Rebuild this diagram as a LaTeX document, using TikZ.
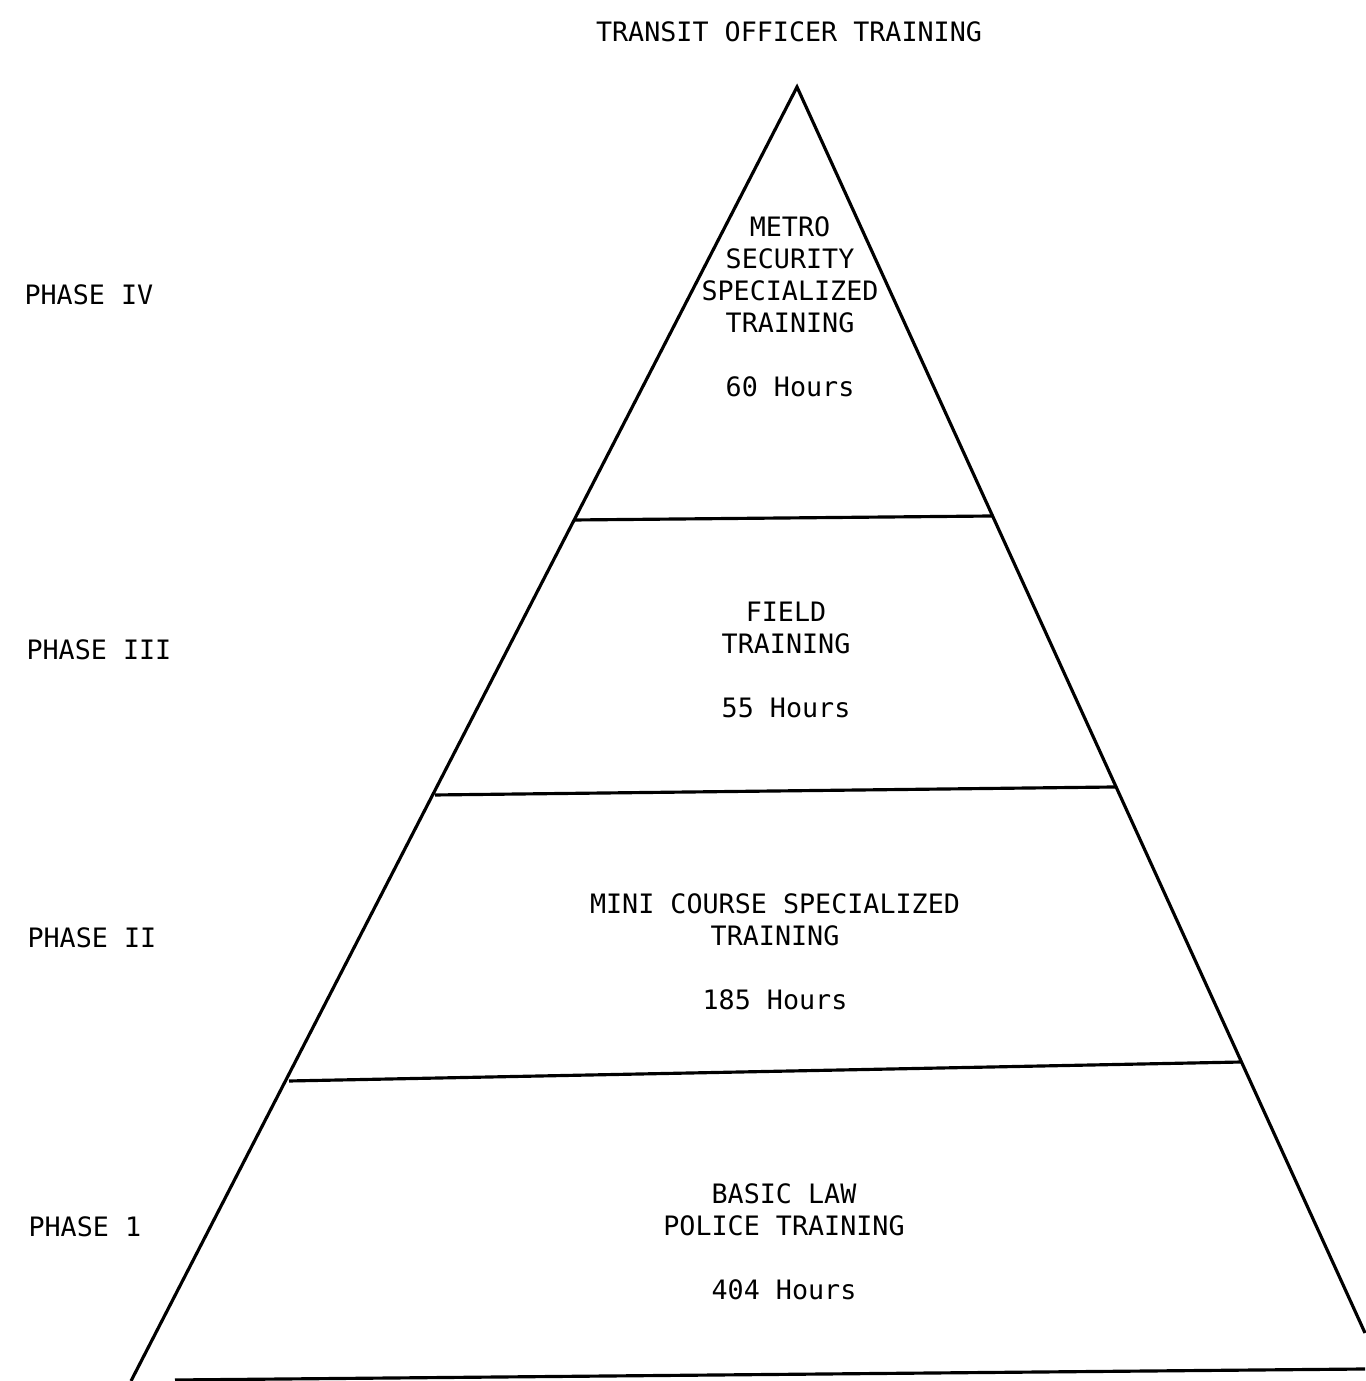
\documentclass[tikz,border=0pt]{standalone}
\usepackage{fontspec}
\setmonofont{DejaVu Sans Mono}
\usetikzlibrary{calc}

\tikzset{
  txt/.style={font=\ttfamily\fontsize{7.6}{9.1}\selectfont, inner sep=0pt, align=center},
  phase/.style={txt, anchor=west},
}

\begin{document}
\begin{tikzpicture}[line width=0.9pt]
  \useasboundingbox (0,0) rectangle (13.65,13.81);

  % apex and the two feet of the pyramid
  \coordinate (Top)   at (7.97, 12.94);
  \coordinate (Left)  at (1.31, 0.00);
  \coordinate (Right) at (13.65, 0.48);

  % dividing lines between the phases
  \coordinate (L1) at (5.75, 8.61);   \coordinate (R1) at (9.93, 8.65);
  \coordinate (L2) at (4.35, 5.86);   \coordinate (R2) at (11.15, 5.94);
  \coordinate (L3) at (2.89, 3.00);   \coordinate (R3) at (12.42, 3.19);
  \coordinate (L4) at (1.75, 0.01);   \coordinate (R4) at (13.65, 0.12);

  \draw (Left) -- (Top) -- (Right);
  \draw (L1) -- (R1);
  \draw (L2) -- (R2);
  \draw (L3) -- (R3);
  \draw (L4) -- (R4);

  % title
  \node[txt] (title) at (7.89, 13.49) {TRANSIT OFFICER TRAINING};

  % phase labels on the left
  \node[phase] (p4) at (0.23, 10.86) {PHASE IV};
  \node[phase] (p3) at (0.25, 7.31)  {PHASE III};
  \node[phase] (p2) at (0.26, 4.43)  {PHASE II};
  \node[phase] (p1) at (0.27, 1.54)  {PHASE 1};

  % contents of each layer
  \node[txt] (metro) at (7.90, 10.74)
    {METRO\\SECURITY\\SPECIALIZED\\TRAINING\\[9.1pt]60 Hours};
  \node[txt] (field) at (7.86, 7.21)
    {FIELD\\TRAINING\\[9.1pt]55 Hours};
  \node[txt] (mini) at (7.75, 4.29)
    {MINI COURSE SPECIALIZED\\TRAINING\\[9.1pt]185 Hours};
  \node[txt] (basic) at (7.84, 1.39)
    {BASIC LAW\\POLICE TRAINING\\[9.1pt]404 Hours};
\end{tikzpicture}
\end{document}
